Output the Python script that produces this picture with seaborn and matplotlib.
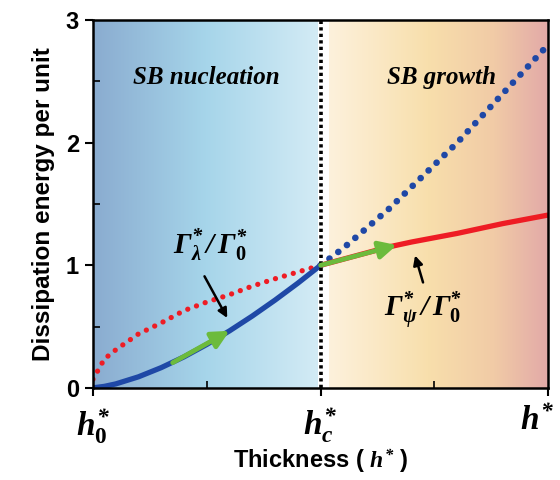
import numpy as np
import pandas as pd
import matplotlib
matplotlib.use("Agg")
import matplotlib.pyplot as plt
import matplotlib.transforms as mtransforms
from matplotlib.colors import LinearSegmentedColormap
import seaborn as sns

# ---- data ----
x_nuc = [0.0, 0.05, 0.1, 0.2, 0.3, 0.4, 0.5, 0.6, 0.7, 0.8, 0.9, 1.0]
gam_lambda_nuc = [0.0, 0.012, 0.032, 0.09, 0.165, 0.253, 0.354, 0.465, 0.586, 0.716, 0.854, 1.0]   # solid blue
gam_psi_nuc = [0.07, 0.235, 0.31, 0.44, 0.53, 0.63, 0.70, 0.76, 0.83, 0.89, 0.945, 1.0]            # dotted red

x_gro = [1.0, 1.1, 1.2, 1.3, 1.4, 1.5, 1.6, 1.7, 1.8, 1.9, 2.0]
gam_lambda_gro = [1.0, 1.14, 1.30, 1.46, 1.64, 1.82, 2.00, 2.20, 2.40, 2.60, 2.80]               # dotted blue
gam_psi_gro = [1.0, 1.05, 1.10, 1.15, 1.19, 1.225, 1.26, 1.30, 1.34, 1.375, 1.41]                # solid red

x_ticks = [0, 1, 2]
x_ticklabels = [r'$h^{*}_{\mathbf{0}}$', r'$h^{*}_{c}$', r'$h^{*}$']
y_ticks = [0, 1, 2, 3]
y_ticklabels = ['0', '1', '2', '3']

region_labels = ['SB nucleation', 'SB growth']
ratio_labels = [r'$\Gamma^{*}_{\lambda}\,/\,\Gamma^{*}_{\mathbf{0}}$',
                r'$\Gamma^{*}_{\psi}\,/\,\Gamma^{*}_{\mathbf{0}}$']

# ---- style ----
sns.set_style('ticks')
plt.rcParams['font.family'] = ['Liberation Sans', 'DejaVu Sans']
plt.rcParams['mathtext.fontset'] = 'custom'
plt.rcParams['mathtext.rm'] = 'Liberation Serif:bold:italic'
plt.rcParams['mathtext.it'] = 'Liberation Serif:bold:italic'
plt.rcParams['mathtext.bf'] = 'Liberation Serif:bold'
plt.rcParams['mathtext.cal'] = 'Liberation Serif:bold:italic'
for k in ['text.color', 'axes.labelcolor', 'xtick.color', 'ytick.color', 'axes.edgecolor']:
    plt.rcParams[k] = 'black'

fig = plt.figure(figsize=(5.6, 4.8), dpi=100)
ax = fig.add_axes([0.166, 0.192, 0.813, 0.766])

blue = '#1f48a6'
red = '#ee1c24'
green = '#6cbb3c'

# background gradients
cmap_l = LinearSegmentedColormap.from_list('l', ['#8aacd0', '#a6d5ea', '#d3ebf5'])
cmap_r = LinearSegmentedColormap.from_list('r', [(0, '#fdf1dc'), (0.45, '#f8dfac'),
                                                  (0.75, '#f1cba6'), (1.0, '#e2a9a8')])
grad = np.linspace(0, 1, 256).reshape(1, -1)
ax.imshow(grad, cmap=cmap_l, aspect='auto', extent=[0, 0.985, 0, 3], zorder=0)
ax.imshow(grad, cmap=cmap_r, aspect='auto', extent=[1.035, 2, 0, 3], zorder=0)

# curves
sns.lineplot(x=x_nuc, y=gam_psi_nuc, ax=ax, color=red, lw=3.8,
             linestyle=(0, (0.01, 1.75)), dash_capstyle='round', zorder=3)
sns.lineplot(x=x_nuc, y=gam_lambda_nuc, ax=ax, color=blue, lw=3.8, zorder=4,
             solid_capstyle='butt')
sns.lineplot(x=x_gro, y=gam_lambda_gro, ax=ax, color=blue, lw=4.8,
             linestyle=(0, (0.01, 1.65)), dash_capstyle='round', zorder=3)
sns.lineplot(x=x_gro, y=gam_psi_gro, ax=ax, color=red, lw=3.8, zorder=4,
             solid_capstyle='butt')

# vertical boundary
ax.axvline(1.0, color='black', lw=2.6, linestyle=(0, (0.9, 0.9)), zorder=5)

# green arrows along the curves
ax.annotate('', xy=(0.60, 0.465), xytext=(0.35, 0.205),
            arrowprops=dict(arrowstyle='-|>', color=green, lw=3.4,
                            mutation_scale=26, shrinkA=0, shrinkB=0), zorder=6)
ax.annotate('', xy=(1.335, 1.165), xytext=(1.0, 1.0),
            arrowprops=dict(arrowstyle='-|>', color=green, lw=3.4,
                            mutation_scale=26, shrinkA=0, shrinkB=0), zorder=6)

# black pointer arrows
ax.annotate('', xy=(0.59, 0.57), xytext=(0.49, 0.91),
            arrowprops=dict(arrowstyle='-|>', color='black', lw=1.8,
                            mutation_scale=14, shrinkA=0, shrinkB=0), zorder=6)
ax.annotate('', xy=(1.415, 1.08), xytext=(1.45, 0.86),
            arrowprops=dict(arrowstyle='-|>', color='black', lw=1.8,
                            mutation_scale=14, shrinkA=0, shrinkB=0), zorder=6)

# texts
ax.text(0.5, 2.53, region_labels[0], ha='center', va='center', fontsize=18,
        family='Liberation Serif', weight='bold', style='italic')
ax.text(1.53, 2.53, region_labels[1], ha='center', va='center', fontsize=18,
        family='Liberation Serif', weight='bold', style='italic')
ax.text(0.515, 1.17, ratio_labels[0], ha='center', va='center', fontsize=21)
ax.text(1.45, 0.63, ratio_labels[1], ha='center', va='center', fontsize=21)

# axes
ax.set_xlim(0, 2)
ax.set_ylim(0, 3)
ax.set_xticks(x_ticks)
ax.set_xticklabels(x_ticklabels, fontsize=24)
ax.set_yticks(y_ticks)
ax.set_yticklabels(y_ticklabels, fontsize=17, fontweight='bold')
ax.set_xticks([0.5, 1.5], minor=True)
ax.set_yticks([0.5, 1.5, 2.5], minor=True)
ax.tick_params(which='major', direction='out', length=6, width=1.5, color='black', pad=4)
ax.tick_params(which='minor', direction='in', length=5, width=1.2, color='black')
ax.tick_params(axis='x', which='major', pad=7)
last = ax.get_xticklabels()[-1]
last.set_transform(last.get_transform() +
                   mtransforms.ScaledTranslation(-8 / 72, 0, fig.dpi_scale_trans))
for s in ax.spines.values():
    s.set_linewidth(1.8)
    s.set_color('black')
    s.set_zorder(7)

ax.set_xlabel(r'Thickness ( $h^{*}$ )', fontsize=17, fontweight='bold', labelpad=2)
ax.set_ylabel('Dissipation energy per unit', fontsize=17.5, fontweight='bold', labelpad=8)

fig.savefig('out.png', dpi=100)
